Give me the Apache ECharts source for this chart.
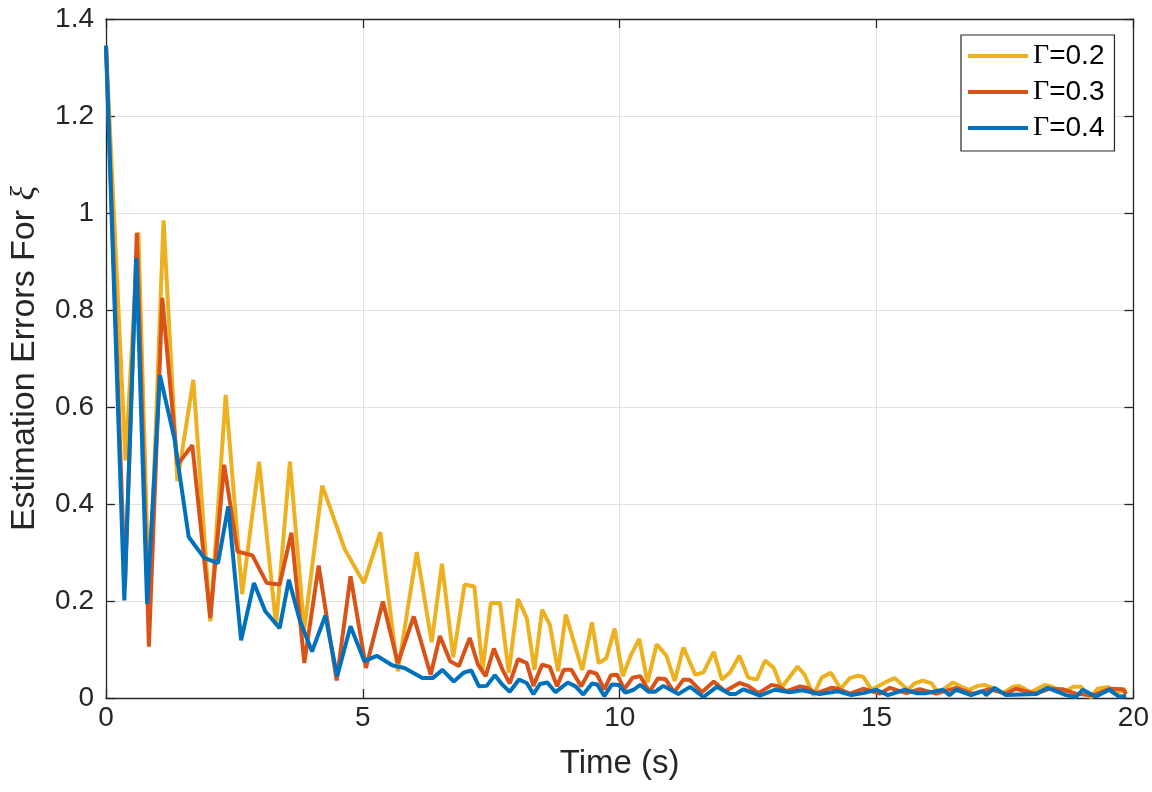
<!DOCTYPE html>
<html lang="en">
<head>
<meta charset="UTF-8">
<title>Estimation Errors For xi</title>
<script src="https://cdn.jsdelivr.net/npm/echarts@6/dist/echarts.min.js"></script>
<style>
    html, body { margin: 0; padding: 0; background: #fff; }
    #chart { width: 1152px; height: 792px; }
</style>
</head>
<body>
<div id="chart"></div>
<script>
// series names
var seriesNames = ['Γ=0.2', 'Γ=0.3', 'Γ=0.4'];
var seriesColors = ['#EDB120', '#D95319', '#0072BD'];

// Γ=0.2 (yellow): time / error
var tYellow = [0, 0.38, 0.63, 0.84, 1.12, 1.39, 1.70, 2.03, 2.33, 2.65, 2.98, 3.31, 3.58, 3.86, 4.21, 4.65, 5.02, 5.34,
    5.68, 6.05, 6.34, 6.54, 6.76, 6.98, 7.17, 7.33, 7.49, 7.67, 7.84, 8.02, 8.19, 8.34, 8.49, 8.64, 8.80, 8.95,
    9.27, 9.46, 9.59, 9.74, 9.90, 10.06, 10.22, 10.38, 10.54, 10.72, 10.91, 11.07, 11.24, 11.47, 11.63, 11.83,
    11.99, 12.15, 12.33, 12.50, 12.67, 12.83, 13.00, 13.15, 13.46, 13.60, 13.77, 13.93, 14.11, 14.30, 14.48,
    14.64, 14.74, 14.90, 15.20, 15.35, 15.61, 15.74, 15.90, 16.07, 16.20, 16.49, 16.65, 16.80, 16.97, 17.10,
    17.26, 17.46, 17.65, 17.78, 18.00, 18.27, 18.43, 18.62, 18.82, 18.98, 19.17, 19.30, 19.50, 19.66, 19.86];
var eYellow = [1.345, 0.49, 0.96, 0.19, 0.985, 0.447, 0.656, 0.158, 0.625, 0.214, 0.487, 0.15, 0.488, 0.141, 0.438, 0.306, 0.237, 0.342,
    0.055, 0.301, 0.115, 0.277, 0.084, 0.234, 0.23, 0.058, 0.196, 0.196, 0.052, 0.204, 0.165, 0.058, 0.182, 0.151, 0.055, 0.172,
    0.058, 0.156, 0.072, 0.082, 0.143, 0.045, 0.089, 0.122, 0.032, 0.111, 0.087, 0.035, 0.104, 0.048, 0.053, 0.095,
    0.038, 0.053, 0.087, 0.042, 0.038, 0.077, 0.062, 0.021, 0.065, 0.048, 0.005, 0.042, 0.052, 0.019, 0.041,
    0.046, 0.044, 0.017, 0.034, 0.041, 0.017, 0.030, 0.036, 0.030, 0.010, 0.032, 0.023, 0.017, 0.025, 0.027,
    0.021, 0.010, 0.023, 0.025, 0.012, 0.027, 0.023, 0.010, 0.023, 0.023, 0.001, 0.019, 0.023, 0.010, 0.019];

// Γ=0.3 (red)
var tRed = [0, 0.37, 0.60, 0.835, 1.095, 1.39, 1.68, 2.03, 2.30, 2.56, 2.85, 3.13, 3.38, 3.61, 3.86, 4.14, 4.49, 4.76,
    5.06, 5.39, 5.68, 5.99, 6.32, 6.50, 6.70, 6.87, 7.08, 7.24, 7.39, 7.55, 7.72, 7.86, 8.02, 8.19, 8.32, 8.49,
    8.64, 8.78, 8.91, 9.06, 9.25, 9.41, 9.55, 9.70, 9.83, 9.95, 10.09, 10.25, 10.40, 10.58, 10.74, 10.89, 11.06,
    11.24, 11.37, 11.60, 11.83, 12.05, 12.33, 12.50, 12.70, 12.96, 13.09, 13.25, 13.51, 13.64, 13.83, 14.12,
    14.25, 14.48, 14.74, 15.06, 15.26, 15.58, 15.84, 16.16, 16.55, 16.87, 17.20, 17.52, 17.71, 18.10, 18.36,
    18.62, 18.88, 19.20, 19.53, 19.79, 19.86];
var eRed = [1.345, 0.23, 0.959, 0.106, 0.825, 0.481, 0.521, 0.165, 0.481, 0.302, 0.294, 0.237, 0.234, 0.341, 0.072, 0.273, 0.036, 0.251,
    0.062, 0.199, 0.072, 0.168, 0.048, 0.128, 0.076, 0.066, 0.124, 0.069, 0.045, 0.102, 0.058, 0.030, 0.080, 0.072, 0.025, 0.069,
    0.064, 0.024, 0.058, 0.058, 0.024, 0.055, 0.050, 0.018, 0.047, 0.048, 0.018, 0.042, 0.045, 0.013, 0.040, 0.039, 0.012,
    0.038, 0.037, 0.012, 0.034, 0.014, 0.031, 0.025, 0.010, 0.027, 0.024, 0.014, 0.024, 0.021, 0.010, 0.021,
    0.019, 0.009, 0.019, 0.009, 0.021, 0.010, 0.018, 0.009, 0.021, 0.009, 0.018, 0.009, 0.019, 0.009, 0.019,
    0.018, 0.009, 0.005, 0.019, 0.018, 0.008];

// Γ=0.4 (blue)
var tBlue = [0, 0.357, 0.59, 0.80, 1.05, 1.33, 1.61, 1.91, 2.18, 2.38, 2.63, 2.88, 3.10, 3.38, 3.56, 3.77, 4.01, 4.27,
    4.50, 4.76, 5.03, 5.27, 5.58, 5.81, 6.16, 6.36, 6.55, 6.77, 6.96, 7.11, 7.26, 7.41, 7.57, 7.72, 7.86, 8.04,
    8.19, 8.32, 8.45, 8.59, 8.75, 8.99, 9.14, 9.29, 9.46, 9.56, 9.70, 9.85, 9.98, 10.11, 10.27, 10.40, 10.56,
    10.69, 10.85, 11.14, 11.37, 11.63, 11.89, 12.15, 12.25, 12.41, 12.73, 13.02, 13.31, 13.55, 13.89, 14.25,
    14.51, 14.74, 15.00, 15.22, 15.55, 15.77, 15.97, 16.29, 16.42, 16.55, 16.84, 17.07, 17.13, 17.30, 17.52,
    18.10, 18.33, 18.69, 18.88, 19.01, 19.27, 19.53, 19.72, 19.86];
var eBlue = [1.345, 0.201, 0.907, 0.194, 0.665, 0.536, 0.332, 0.289, 0.278, 0.395, 0.119, 0.237, 0.179, 0.144, 0.244, 0.161, 0.096, 0.170,
    0.045, 0.148, 0.076, 0.087, 0.067, 0.062, 0.041, 0.041, 0.058, 0.034, 0.052, 0.057, 0.024, 0.025, 0.047, 0.027, 0.013, 0.038,
    0.031, 0.008, 0.029, 0.032, 0.012, 0.032, 0.024, 0.007, 0.030, 0.028, 0.004, 0.028, 0.027, 0.011, 0.017, 0.027, 0.013,
    0.013, 0.025, 0.008, 0.023, 0.002, 0.023, 0.008, 0.008, 0.018, 0.005, 0.017, 0.012, 0.016, 0.008, 0.014,
    0.006, 0.010, 0.017, 0.006, 0.017, 0.010, 0.010, 0.017, 0.006, 0.017, 0.006, 0.014, 0.006, 0.021, 0.006,
    0.008, 0.021, 0.006, 0.002, 0.017, 0.003, 0.017, 0.003, 0.004];

function pairs(t, e) {
    var out = [];
    for (var i = 0; i < t.length; i++) {
        out.push([t[i], e[i]]);
    }
    return out;
}

var textColor = '#262626';
var sans = 'Liberation Sans';

function axisBase(extra) {
    var a = {
        type: 'value',
        axisLine: { show: true, onZero: false, lineStyle: { color: textColor, width: 1.3 } },
        axisTick: { show: true, inside: true, length: 9, lineStyle: { color: textColor, width: 1.3 } },
        axisLabel: { show: false },
        splitLine: { show: false }
    };
    for (var k in extra) a[k] = extra[k];
    return a;
}

var myChart = echarts.init(document.getElementById('chart'));
var option = {
    animation: false,
    backgroundColor: '#ffffff',
    grid: { left: 104, right: 18, top: 19, bottom: 94 },
    legend: {
        orient: 'vertical',
        left: 961,
        top: 35,
        padding: [6, 10, 8, 7],
        itemGap: 6,
        itemWidth: 60,
        itemHeight: 4,
        icon: 'rect',
        backgroundColor: '#ffffff',
        borderColor: textColor,
        borderWidth: 1.2,
        data: seriesNames,
        formatter: function (name) {
            return '{g|Γ}{n|' + name.slice(1) + '}';
        },
        textStyle: {
            color: '#000',
            lineHeight: 30,
            rich: {
                g: { fontFamily: 'Liberation Serif', fontSize: 28, color: '#000' },
                n: { fontFamily: sans, fontSize: 28, color: '#000' }
            }
        }
    },
    xAxis: [
        axisBase({
            min: 0, max: 20, interval: 5, position: 'bottom',
            axisLabel: { show: true, fontSize: 28, fontFamily: sans, color: textColor, margin: 6 },
            splitLine: { show: true, lineStyle: { color: '#e2e2e2', width: 1 } },
            name: 'Time (s)',
            nameLocation: 'middle',
            nameGap: 49,
            nameTextStyle: { fontSize: 33, fontFamily: sans, color: textColor }
        }),
        axisBase({ min: 0, max: 20, interval: 5, position: 'top' })
    ],
    yAxis: [
        axisBase({
            min: 0, max: 1.4, interval: 0.2, position: 'left',
            axisLabel: { show: true, fontSize: 28, fontFamily: sans, color: textColor, margin: 12 },
            splitLine: { show: true, lineStyle: { color: '#e2e2e2', width: 1 } },
            name: 'Estimation Errors For {x|ξ}',
            nameLocation: 'middle',
            nameGap: 64,
            nameRotate: 90,
            nameTextStyle: {
                fontSize: 34, fontFamily: sans, color: textColor,
                rich: { x: { fontSize: 34, fontFamily: 'Liberation Serif', fontStyle: 'italic', color: textColor } }
            }
        }),
        axisBase({ min: 0, max: 1.4, interval: 0.2, position: 'right' })
    ],
    series: [
        {
            name: seriesNames[0], type: 'line', xAxisIndex: 0, yAxisIndex: 0,
            showSymbol: false, color: seriesColors[0],
            lineStyle: { width: 4, color: seriesColors[0] },
            data: pairs(tYellow, eYellow)
        },
        {
            name: seriesNames[1], type: 'line', xAxisIndex: 0, yAxisIndex: 0,
            showSymbol: false, color: seriesColors[1],
            lineStyle: { width: 4, color: seriesColors[1] },
            data: pairs(tRed, eRed)
        },
        {
            name: seriesNames[2], type: 'line', xAxisIndex: 0, yAxisIndex: 0,
            showSymbol: false, color: seriesColors[2],
            lineStyle: { width: 4, color: seriesColors[2] },
            data: pairs(tBlue, eBlue)
        }
    ]
};
myChart.setOption(option);
</script>
</body>
</html>
